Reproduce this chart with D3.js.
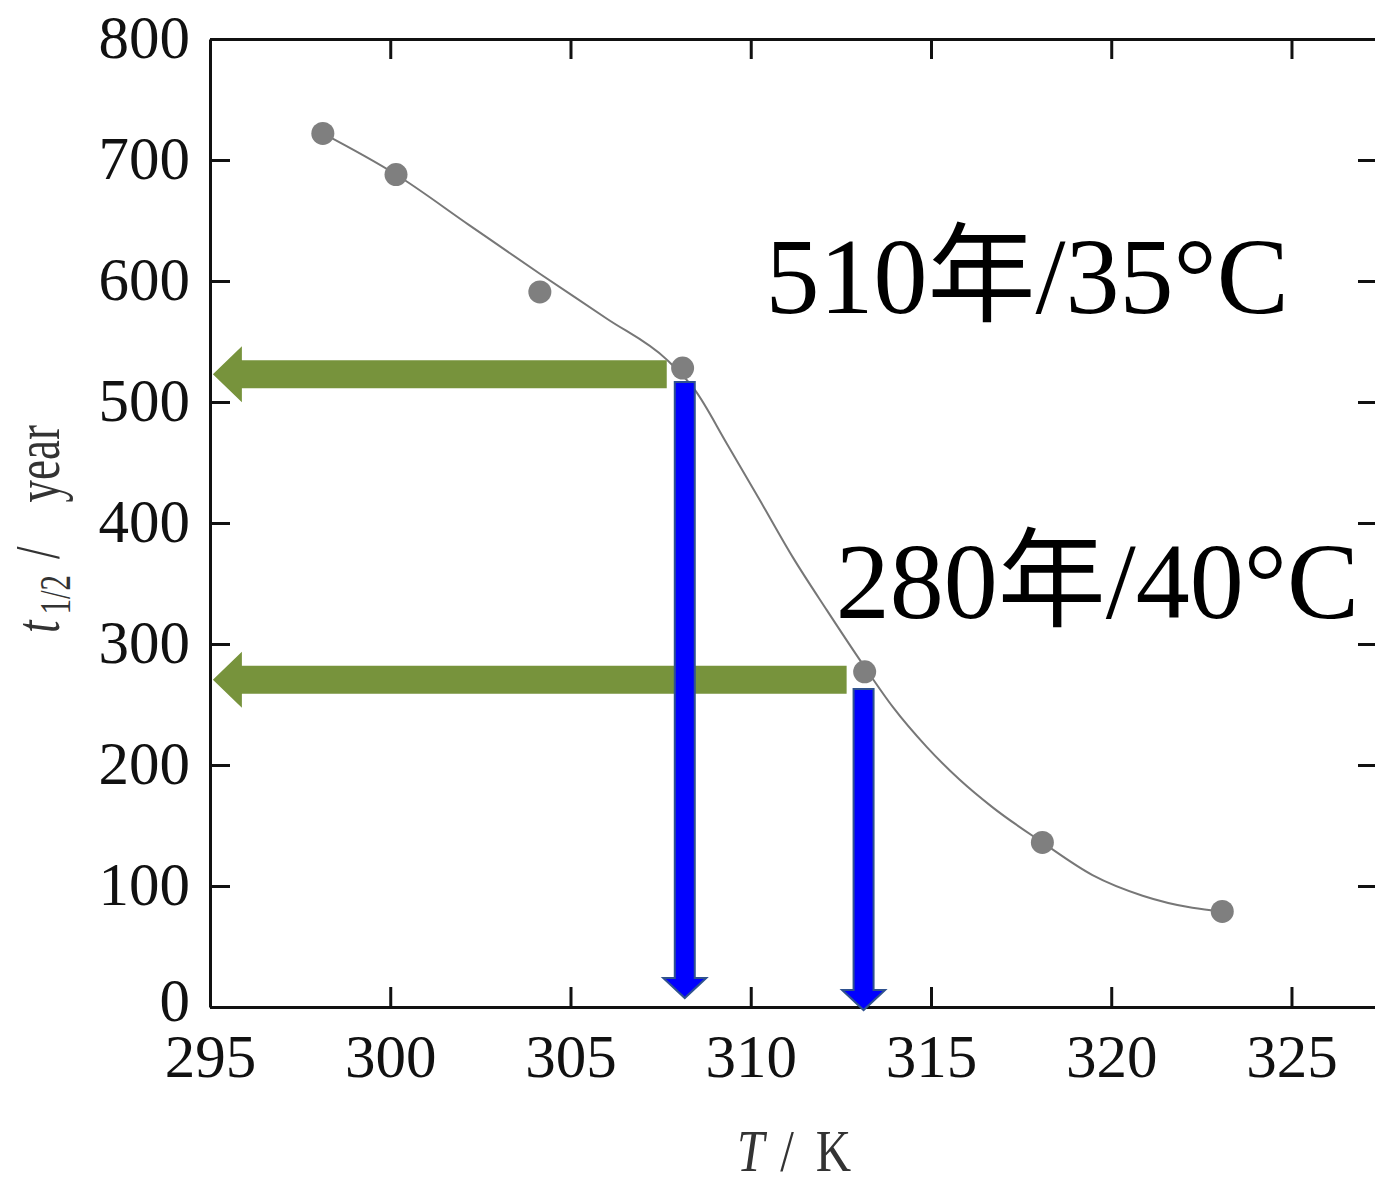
<!DOCTYPE html>
<html>
<head>
<meta charset="utf-8">
<script src="https://cdn.jsdelivr.net/npm/d3@7"></script>
<style>
  body { margin: 0; background: #fff; }
  svg { display: block; }
</style>
</head>
<body>
<div id="container"></div>
<script>
// measured points (T in K, half life in years)
const tempK = [298.13, 300.16, 304.15, 308.11, 313.16, 318.09, 323.08];
const halfLife = [722, 688, 591, 528, 277, 136, 79];

// fitted curve
const fitT = [298.13, 300.16, 302.2, 304.15, 306.0, 307.67, 308.45, 309.33, 310.25, 311.16, 312.11, 313.16, 313.94, 314.88, 315.79, 316.71, 318.09, 319.48, 320.87, 322.25, 323.08];
const fitY = [722, 688, 646, 606, 569, 535, 510, 466, 419, 372, 328, 281, 248, 215, 188, 165, 136, 109, 92, 82, 79];

const xTicks = [295, 300, 305, 310, 315, 320, 325];
const yTicks = [0, 100, 200, 300, 400, 500, 600, 700, 800];

// read-off arrows: green ones point left to the y axis, blue ones point down to the x axis
const greenArrows = [
  { t: 523, fromT: 307.67, toT: 295.08 },
  { t: 270.5, fromT: 312.66, toT: 295.08 }
];
const blueArrows = [
  { T: 308.17, fromY: 516.5, toY: 7.4 },
  { T: 313.13, fromY: 262.8, toY: -2.5 }
];

const notes = [
  { T: 310.41, t: 573.6, text: "510年/35°C" },
  { T: 312.36, t: 321.5, text: "280年/40°C" }
];

const W = 1375, H = 1185;
const svg = d3.select("#container").append("svg")
  .attr("width", W)
  .attr("height", H);

const x = d3.scaleLinear().domain([295, 327.4]).range([210, 1378]);
const y = d3.scaleLinear().domain([0, 800]).range([1007, 39]);

const serif = "'Liberation Serif', 'Times New Roman', serif";
const tickLen = 20;

// frame + inward ticks on all four sides
function styleAxis(g) {
  g.select(".domain").attr("stroke", "#111").attr("stroke-width", 3);
  g.selectAll(".tick line").attr("stroke", "#111").attr("stroke-width", 3);
  g.selectAll(".tick text")
    .attr("fill", "#111")
    .style("font-family", serif)
    .style("font-size", "61px");
}

svg.append("g")
  .attr("transform", "translate(0," + y(0) + ")")
  .call(d3.axisBottom(x).tickValues(xTicks).tickSizeInner(-tickLen).tickSizeOuter(0).tickPadding(27).tickFormat(d3.format("d")))
  .call(styleAxis);

svg.append("g")
  .attr("transform", "translate(0," + y(800) + ")")
  .call(d3.axisTop(x).tickValues(xTicks.slice(1)).tickSizeInner(-tickLen).tickSizeOuter(0).tickFormat(""))
  .call(styleAxis);

svg.append("g")
  .attr("transform", "translate(" + x(295) + ",0)")
  .call(d3.axisLeft(y).tickValues(yTicks).tickSizeInner(-tickLen).tickSizeOuter(0).tickPadding(20).tickFormat(d3.format("d")))
  .call(styleAxis)
  .call(g => g.selectAll(".tick text").attr("dy", d => d === 0 ? "0.22em" : "0.3em"));

svg.append("g")
  .attr("transform", "translate(" + x(327.4) + ",0)")
  .call(d3.axisRight(y).tickValues(yTicks.slice(1, -1)).tickSizeInner(-tickLen).tickSizeOuter(0).tickFormat(""))
  .call(styleAxis);

// fitted curve
const fit = fitT.map((d, i) => [d, fitY[i]]);
svg.append("path")
  .datum(fit)
  .attr("fill", "none")
  .attr("stroke", "#777")
  .attr("stroke-width", 2)
  .attr("d", d3.line().x(d => x(d[0])).y(d => y(d[1])).curve(d3.curveMonotoneX));

// points
svg.selectAll(".pt")
  .data(tempK.map((d, i) => [d, halfLife[i]]))
  .enter().append("circle")
  .attr("class", "pt")
  .attr("cx", d => x(d[0]))
  .attr("cy", d => y(d[1]))
  .attr("r", 11.5)
  .attr("fill", "#7f7f7f");

// green arrows (left)
const gShaft = 14, gHead = 28, gLen = 29;
svg.selectAll(".garrow")
  .data(greenArrows)
  .enter().append("path")
  .attr("class", "garrow")
  .attr("fill", "#77933c")
  .attr("d", d => {
    const x0 = x(d.fromT), x1 = x(d.toT), yc = y(d.t);
    return "M" + x0 + "," + (yc - gShaft) +
      "L" + (x1 + gLen) + "," + (yc - gShaft) +
      "L" + (x1 + gLen) + "," + (yc - gHead) +
      "L" + x1 + "," + yc +
      "L" + (x1 + gLen) + "," + (yc + gHead) +
      "L" + (x1 + gLen) + "," + (yc + gShaft) +
      "L" + x0 + "," + (yc + gShaft) + "Z";
  });

// blue arrows (down)
const bShaft = 10, bHead = 21.5, bLen = 20;
svg.selectAll(".barrow")
  .data(blueArrows)
  .enter().append("path")
  .attr("class", "barrow")
  .attr("fill", "#0000ff")
  .attr("stroke", "#2f528f")
  .attr("stroke-width", 2)
  .attr("d", d => {
    const xc = x(d.T), y0 = y(d.fromY), y1 = y(d.toY);
    return "M" + (xc - bShaft) + "," + y0 +
      "L" + (xc - bShaft) + "," + (y1 - bLen) +
      "L" + (xc - bHead) + "," + (y1 - bLen) +
      "L" + xc + "," + y1 +
      "L" + (xc + bHead) + "," + (y1 - bLen) +
      "L" + (xc + bShaft) + "," + (y1 - bLen) +
      "L" + (xc + bShaft) + "," + y0 + "Z";
  });

// big annotations
svg.selectAll(".note")
  .data(notes)
  .enter().append("text")
  .attr("class", "note")
  .attr("x", d => x(d.T))
  .attr("y", d => y(d.t))
  .attr("fill", "#000")
  .style("font-family", serif + ", 'Noto Sans CJK SC'")
  .style("font-size", "108px")
  .text(d => d.text);

// axis titles
// y title reads bottom to top, starting near y=633
const yTitle = svg.append("text")
  .attr("transform", "translate(59,633) rotate(-90) scale(1,1.42)")
  .attr("text-anchor", "start")
  .attr("fill", "#333")
  .style("font-family", serif)
  .style("font-size", "45px");
yTitle.append("tspan").style("font-style", "italic").text("t");
yTitle.append("tspan").attr("dx", 6).attr("dy", 8).style("font-size", "31px").text("1/2");
yTitle.append("tspan").attr("dx", 16).attr("dy", -8).text("/");
yTitle.append("tspan").attr("dx", 44).text("year");

const xTitle = svg.append("text")
  .attr("transform", "translate(737,1171) scale(1,1.2)")
  .attr("text-anchor", "start")
  .attr("fill", "#333")
  .style("font-family", serif)
  .style("font-size", "49px");
xTitle.append("tspan").style("font-style", "italic").text("T");
xTitle.append("tspan").attr("dx", 16).text("/");
xTitle.append("tspan").attr("dx", 22).text("K");
</script>
</body>
</html>
